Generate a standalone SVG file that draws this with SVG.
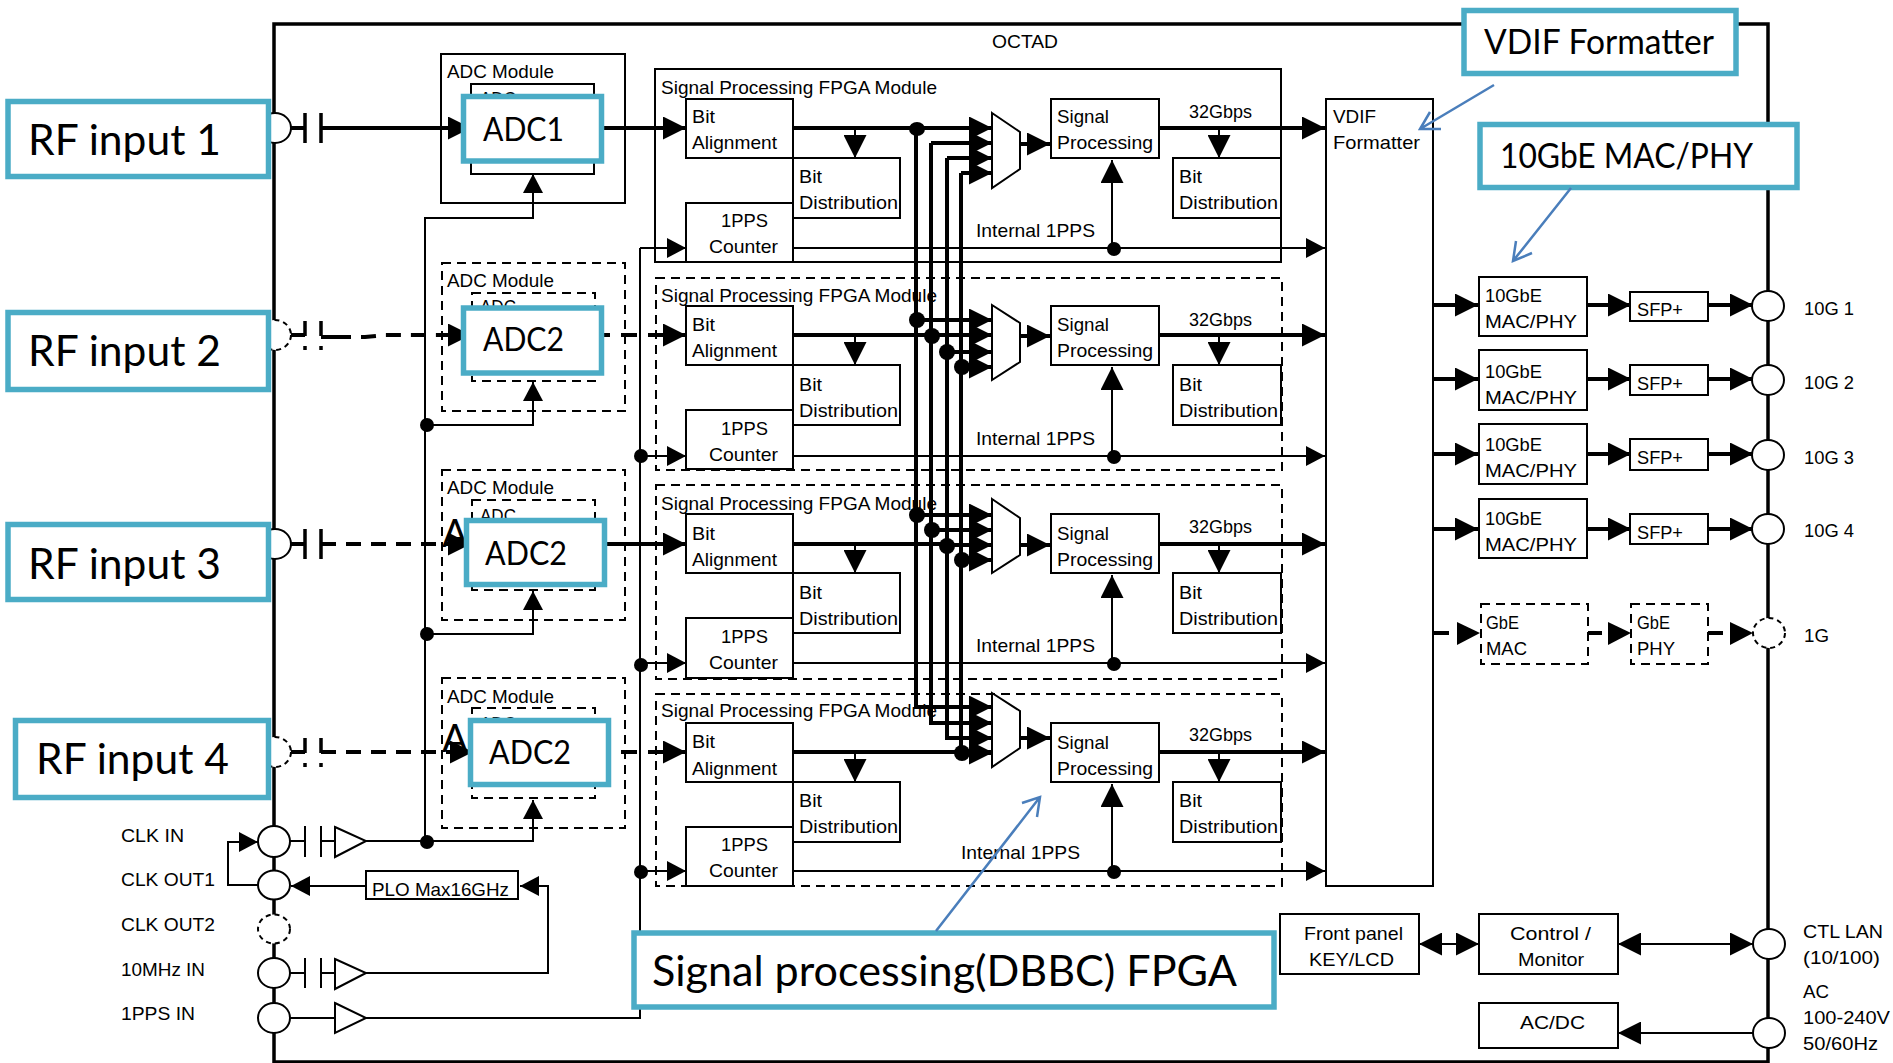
<svg xmlns="http://www.w3.org/2000/svg" width="1893" height="1063" viewBox="0 0 1893 1063">
<style>
text{font-family:"Liberation Sans",Arial,sans-serif;font-size:19px;fill:#000}
.b{fill:#fff;stroke:#000;stroke-width:2}
.n{fill:none;stroke:#000;stroke-width:2}
.d{fill:none;stroke:#000;stroke-width:2;stroke-dasharray:9 6}
.bd{fill:#fff;stroke:#000;stroke-width:2;stroke-dasharray:5 4}
.blue{fill:#fff;stroke:#4bacc6;stroke-width:5.5}
.bt{font-family:Lato,"Noto Sans",sans-serif;font-size:43px}
.at{font-family:Lato,"Noto Sans",sans-serif;font-size:33px}
.thick{fill:none;stroke:#000;stroke-width:4}
.thin{fill:none;stroke:#000;stroke-width:2}
.dash{fill:none;stroke:#000;stroke-width:4;stroke-dasharray:15 10}
.adash{fill:none;stroke:#000;stroke-width:4;stroke-dasharray:16 11}
.plate{fill:none;stroke:#000;stroke-width:3.5}
.pd{fill:none;stroke:#000;stroke-width:3.5;stroke-dasharray:15 10 4 40}
.cap{fill:none;stroke:#000;stroke-width:2}
.callout{fill:none;stroke:#4a7ebb;stroke-width:2.5}
.dot{fill:#000}
.big{marker-end:url(#big)}
.small{marker-end:url(#small)}
</style>
<defs>
<marker id="big" markerUnits="userSpaceOnUse" viewBox="0 0 23 23" refX="23" refY="11.5" markerWidth="23" markerHeight="23" orient="auto"><path d="M0 0L23 11.5L0 23Z" fill="#000"/></marker>
<marker id="small" markerUnits="userSpaceOnUse" viewBox="0 0 19 20" refX="19" refY="10" markerWidth="19" markerHeight="20" orient="auto"><path d="M0 0L19 10L0 20Z" fill="#000"/></marker>
</defs>
<rect width="1893" height="1063" fill="#fff"/>
<g id="octad"><rect x="274" y="24" width="1494" height="1038" fill="none" stroke="#000" stroke-width="3.5"/><text x="992" y="48" textLength="66" lengthAdjust="spacingAndGlyphs">OCTAD</text></g>

<g id="adc-module-1"><rect class="n" x="441" y="54" width="184" height="149"/><text x="447" y="78" textLength="107" lengthAdjust="spacingAndGlyphs">ADC Module</text><rect class="n" x="471" y="84" width="123" height="90"/><text x="480" y="105" textLength="36" lengthAdjust="spacingAndGlyphs">ADC</text></g>
<g id="adc-module-2"><rect class="d" x="442" y="263" width="183" height="148"/><text x="447" y="287" textLength="107" lengthAdjust="spacingAndGlyphs">ADC Module</text><rect class="d" x="472" y="293" width="123" height="88"/><text x="480" y="313" textLength="36" lengthAdjust="spacingAndGlyphs">ADC</text></g>
<g id="adc-module-3"><rect class="d" x="442" y="470" width="183" height="150"/><text x="447" y="494" textLength="107" lengthAdjust="spacingAndGlyphs">ADC Module</text><rect class="d" x="472" y="500" width="123" height="90"/><text x="480" y="522" textLength="36" lengthAdjust="spacingAndGlyphs">ADC</text><text class="at" x="442" y="547" style="font-size:38px">A</text></g>
<g id="adc-module-4"><rect class="d" x="442" y="678" width="183" height="150"/><text x="447" y="703" textLength="107" lengthAdjust="spacingAndGlyphs">ADC Module</text><rect class="d" x="472" y="708" width="123" height="90"/><text x="480" y="730" textLength="36" lengthAdjust="spacingAndGlyphs">ADC</text><text class="at" x="442" y="752" style="font-size:38px">A</text></g>

<g id="fpga-1"><rect class="n" x="655" y="69" width="626" height="193"/><text x="661" y="94" textLength="276" lengthAdjust="spacingAndGlyphs">Signal Processing FPGA Module</text>
<rect class="b" x="793" y="158" width="107" height="60"/><text x="799" y="183" textLength="23" lengthAdjust="spacingAndGlyphs">Bit</text><text x="799" y="209" textLength="99" lengthAdjust="spacingAndGlyphs">Distribution</text>
<rect class="b" x="686" y="99" width="107" height="59"/><text x="692" y="123" textLength="23" lengthAdjust="spacingAndGlyphs">Bit</text><text x="692" y="149" textLength="85" lengthAdjust="spacingAndGlyphs">Alignment</text>
<rect class="b" x="686" y="203" width="107" height="59"/><text x="721" y="227" textLength="47" lengthAdjust="spacingAndGlyphs">1PPS</text><text x="709" y="253" textLength="69" lengthAdjust="spacingAndGlyphs">Counter</text>
<polygon class="b" points="992,113 1020,132 1020,169 992,188"/>
<rect class="b" x="1051" y="99" width="108" height="59"/><text x="1057" y="123" textLength="52" lengthAdjust="spacingAndGlyphs">Signal</text><text x="1057" y="149" textLength="96" lengthAdjust="spacingAndGlyphs">Processing</text>
<rect class="b" x="1173" y="158" width="108" height="60"/><text x="1179" y="183" textLength="23" lengthAdjust="spacingAndGlyphs">Bit</text><text x="1179" y="209" textLength="99" lengthAdjust="spacingAndGlyphs">Distribution</text>
<text x="1189" y="118" textLength="63" lengthAdjust="spacingAndGlyphs">32Gbps</text><text x="976" y="237" textLength="119" lengthAdjust="spacingAndGlyphs">Internal 1PPS</text></g>

<g id="fpga-2"><rect class="d" x="656" y="278" width="626" height="192"/><text x="661" y="302" textLength="276" lengthAdjust="spacingAndGlyphs">Signal Processing FPGA Module</text>
<rect class="b" x="793" y="365" width="107" height="60"/><text x="799" y="391" textLength="23" lengthAdjust="spacingAndGlyphs">Bit</text><text x="799" y="417" textLength="99" lengthAdjust="spacingAndGlyphs">Distribution</text>
<rect class="b" x="686" y="306" width="107" height="59"/><text x="692" y="331" textLength="23" lengthAdjust="spacingAndGlyphs">Bit</text><text x="692" y="357" textLength="85" lengthAdjust="spacingAndGlyphs">Alignment</text>
<rect class="b" x="686" y="410" width="107" height="59"/><text x="721" y="435" textLength="47" lengthAdjust="spacingAndGlyphs">1PPS</text><text x="709" y="461" textLength="69" lengthAdjust="spacingAndGlyphs">Counter</text>
<polygon class="b" points="992,305 1020,323 1020,362 992,380"/>
<rect class="b" x="1051" y="306" width="108" height="59"/><text x="1057" y="331" textLength="52" lengthAdjust="spacingAndGlyphs">Signal</text><text x="1057" y="357" textLength="96" lengthAdjust="spacingAndGlyphs">Processing</text>
<rect class="b" x="1173" y="365" width="108" height="60"/><text x="1179" y="391" textLength="23" lengthAdjust="spacingAndGlyphs">Bit</text><text x="1179" y="417" textLength="99" lengthAdjust="spacingAndGlyphs">Distribution</text>
<text x="1189" y="326" textLength="63" lengthAdjust="spacingAndGlyphs">32Gbps</text><text x="976" y="445" textLength="119" lengthAdjust="spacingAndGlyphs">Internal 1PPS</text></g>

<g id="fpga-3"><rect class="d" x="656" y="485" width="626" height="194"/><text x="661" y="510" textLength="276" lengthAdjust="spacingAndGlyphs">Signal Processing FPGA Module</text>
<rect class="b" x="793" y="573" width="107" height="60"/><text x="799" y="599" textLength="23" lengthAdjust="spacingAndGlyphs">Bit</text><text x="799" y="625" textLength="99" lengthAdjust="spacingAndGlyphs">Distribution</text>
<rect class="b" x="686" y="514" width="107" height="59"/><text x="692" y="540" textLength="23" lengthAdjust="spacingAndGlyphs">Bit</text><text x="692" y="566" textLength="85" lengthAdjust="spacingAndGlyphs">Alignment</text>
<rect class="b" x="686" y="618" width="107" height="60"/><text x="721" y="643" textLength="47" lengthAdjust="spacingAndGlyphs">1PPS</text><text x="709" y="669" textLength="69" lengthAdjust="spacingAndGlyphs">Counter</text>
<polygon class="b" points="992,499 1020,518 1020,555 992,573"/>
<rect class="b" x="1051" y="514" width="108" height="59"/><text x="1057" y="540" textLength="52" lengthAdjust="spacingAndGlyphs">Signal</text><text x="1057" y="566" textLength="96" lengthAdjust="spacingAndGlyphs">Processing</text>
<rect class="b" x="1173" y="573" width="108" height="60"/><text x="1179" y="599" textLength="23" lengthAdjust="spacingAndGlyphs">Bit</text><text x="1179" y="625" textLength="99" lengthAdjust="spacingAndGlyphs">Distribution</text>
<text x="1189" y="533" textLength="63" lengthAdjust="spacingAndGlyphs">32Gbps</text><text x="976" y="652" textLength="119" lengthAdjust="spacingAndGlyphs">Internal 1PPS</text></g>

<g id="fpga-4"><rect class="d" x="656" y="694" width="626" height="192"/><text x="661" y="717" textLength="276" lengthAdjust="spacingAndGlyphs">Signal Processing FPGA Module</text>
<rect class="b" x="793" y="782" width="107" height="60"/><text x="799" y="807" textLength="23" lengthAdjust="spacingAndGlyphs">Bit</text><text x="799" y="833" textLength="99" lengthAdjust="spacingAndGlyphs">Distribution</text>
<rect class="b" x="686" y="723" width="107" height="59"/><text x="692" y="748" textLength="23" lengthAdjust="spacingAndGlyphs">Bit</text><text x="692" y="775" textLength="85" lengthAdjust="spacingAndGlyphs">Alignment</text>
<rect class="b" x="686" y="827" width="107" height="59"/><text x="721" y="851" textLength="47" lengthAdjust="spacingAndGlyphs">1PPS</text><text x="709" y="877" textLength="69" lengthAdjust="spacingAndGlyphs">Counter</text>
<polygon class="b" points="992,693 1020,711 1020,748 992,767"/>
<rect class="b" x="1051" y="723" width="108" height="59"/><text x="1057" y="749" textLength="52" lengthAdjust="spacingAndGlyphs">Signal</text><text x="1057" y="775" textLength="96" lengthAdjust="spacingAndGlyphs">Processing</text>
<rect class="b" x="1173" y="782" width="108" height="60"/><text x="1179" y="807" textLength="23" lengthAdjust="spacingAndGlyphs">Bit</text><text x="1179" y="833" textLength="99" lengthAdjust="spacingAndGlyphs">Distribution</text>
<text x="1189" y="741" textLength="63" lengthAdjust="spacingAndGlyphs">32Gbps</text><text x="961" y="859" textLength="119" lengthAdjust="spacingAndGlyphs">Internal 1PPS</text></g>

<g id="vdif"><rect class="b" x="1326" y="99" width="107" height="787"/><text x="1333" y="123" textLength="43" lengthAdjust="spacingAndGlyphs">VDIF</text><text x="1333" y="149" textLength="87" lengthAdjust="spacingAndGlyphs">Formatter</text></g>
<g id="mac-1"><rect class="b" x="1479" y="277" width="108" height="59"/><text x="1485" y="302" textLength="57" lengthAdjust="spacingAndGlyphs">10GbE</text><text x="1485" y="328" textLength="92" lengthAdjust="spacingAndGlyphs">MAC/PHY</text></g>
<g id="mac-2"><rect class="b" x="1479" y="350" width="108" height="60"/><text x="1485" y="378" textLength="57" lengthAdjust="spacingAndGlyphs">10GbE</text><text x="1485" y="404" textLength="92" lengthAdjust="spacingAndGlyphs">MAC/PHY</text></g>
<g id="mac-3"><rect class="b" x="1479" y="424" width="108" height="60"/><text x="1485" y="451" textLength="57" lengthAdjust="spacingAndGlyphs">10GbE</text><text x="1485" y="477" textLength="92" lengthAdjust="spacingAndGlyphs">MAC/PHY</text></g>
<g id="mac-4"><rect class="b" x="1479" y="499" width="108" height="59"/><text x="1485" y="525" textLength="57" lengthAdjust="spacingAndGlyphs">10GbE</text><text x="1485" y="551" textLength="92" lengthAdjust="spacingAndGlyphs">MAC/PHY</text></g>
<g id="sfp-1"><rect class="b" x="1630" y="292" width="78" height="29"/><text x="1637" y="316" textLength="46" lengthAdjust="spacingAndGlyphs">SFP+</text></g>
<g id="sfp-2"><rect class="b" x="1630" y="365" width="78" height="30"/><text x="1637" y="390" textLength="46" lengthAdjust="spacingAndGlyphs">SFP+</text></g>
<g id="sfp-3"><rect class="b" x="1630" y="439" width="78" height="31"/><text x="1637" y="464" textLength="46" lengthAdjust="spacingAndGlyphs">SFP+</text></g>
<g id="sfp-4"><rect class="b" x="1630" y="514" width="78" height="30"/><text x="1637" y="539" textLength="46" lengthAdjust="spacingAndGlyphs">SFP+</text></g>
<g id="gbe-mac"><rect class="d" x="1481" y="604" width="107" height="60"/><text x="1486" y="629" textLength="33" lengthAdjust="spacingAndGlyphs">GbE</text><text x="1486" y="655" textLength="41" lengthAdjust="spacingAndGlyphs">MAC</text></g>
<g id="gbe-phy"><rect class="d" x="1631" y="604" width="77" height="60"/><text x="1637" y="629" textLength="33" lengthAdjust="spacingAndGlyphs">GbE</text><text x="1637" y="655" textLength="38" lengthAdjust="spacingAndGlyphs">PHY</text></g>
<g id="front-panel"><rect class="b" x="1280" y="914" width="139" height="60"/><text x="1304" y="940" textLength="99" lengthAdjust="spacingAndGlyphs">Front panel</text><text x="1309" y="966" textLength="85" lengthAdjust="spacingAndGlyphs">KEY/LCD</text></g>
<g id="control"><rect class="b" x="1479" y="914" width="139" height="60"/><text x="1510" y="940" textLength="81" lengthAdjust="spacingAndGlyphs">Control /</text><text x="1518" y="966" textLength="66" lengthAdjust="spacingAndGlyphs">Monitor</text></g>
<g id="acdc"><rect class="b" x="1479" y="1003" width="139" height="45"/><text x="1520" y="1029" textLength="65" lengthAdjust="spacingAndGlyphs">AC/DC</text></g>
<g id="plo"><rect class="b" x="366" y="871" width="152" height="28"/><text x="372" y="896" textLength="137" lengthAdjust="spacingAndGlyphs">PLO Max16GHz</text></g>

<g id="connectors">
<path class="thick" d="M290 128H305"/><path class="thick big" d="M321 128H471"/><path class="plate" d="M305 113V143M321 113V143"/>
<path class="thick" d="M290 335H305M321 337H336"/><path class="dash big" d="M336 337H365L385 335H471"/><path class="pd" d="M305 321V350M321 321V350"/>
<path class="thick" d="M290 544H305"/><path class="dash big" d="M321 544H471"/><path class="plate" d="M305 529V559M321 529V559"/>
<path class="thick" d="M290 752H305"/><path class="dash big" d="M321 752H473"/><path class="pd" d="M305 738V767M321 738V767"/>
<path class="thick big" d="M600 128H686"/><path class="adash big" d="M594 335H686"/><path class="thick big" d="M600 544H686"/><path class="adash big" d="M594 752H686"/>
<path class="thick big" d="M793 128H992"/><path class="thick big" d="M931 143H992"/><path class="thick big" d="M947 158H992"/><path class="thick big" d="M961 173H992"/>
<path class="thick big" d="M916 128V707H992"/><path class="thick big" d="M931 143V723H992"/><path class="thick big" d="M947 158V738H992"/><path class="thick big" d="M961 173V753H992"/>
<path class="thick" d="M793 335H932"/><path class="thick big" d="M916 320H992"/><path class="thick big" d="M931 335H992"/><path class="thick big" d="M947 352H992"/><path class="thick big" d="M961 367H992"/>
<path class="thick big" d="M793 544H947V545H992"/><path class="thick big" d="M916 515H992"/><path class="thick big" d="M931 530H992"/><path class="thick big" d="M961 560H992"/>
<path class="thick big" d="M793 752H992"/>
<path class="thick big" d="M1020 144H1050"/><path class="thick big" d="M1020 336H1050"/><path class="thick big" d="M1020 545H1050"/><path class="thick big" d="M1020 738H1050"/>
<path class="thick big" d="M1159 128H1325"/><path class="thick big" d="M1159 335H1325"/><path class="thick big" d="M1159 544H1325"/><path class="thick big" d="M1159 752H1325"/>
<path class="thin big" d="M855 128V158"/><path class="thin big" d="M1219 128V158"/><path class="thin big" d="M855 335V365"/><path class="thin big" d="M1219 335V365"/><path class="thin big" d="M855 544V573"/><path class="thin big" d="M1219 544V573"/><path class="thin big" d="M855 752V782"/><path class="thin big" d="M1219 752V782"/>
<path class="thin small" d="M793 248H1325"/><path class="thin small" d="M793 456H1325"/><path class="thin small" d="M793 663H1325"/><path class="thin small" d="M793 871H1325"/>
<path class="thin big" d="M1112 248V160"/><path class="thin big" d="M1112 456V367"/><path class="thin big" d="M1112 663V575"/><path class="thin big" d="M1112 871V784"/>
<path class="thin small" d="M640 248H686"/><path class="thin small" d="M640 456H686"/><path class="thin small" d="M640 663H686"/><path class="thin small" d="M640 871H686"/>
<path class="thin" d="M640 248V1018H366"/><path class="thin" d="M290 1018H335"/>
<path class="thin small" d="M366 841H533V800"/><path class="thin small" d="M425 841V218H533V174"/><path class="thin small" d="M425 425H533V382"/><path class="thin small" d="M425 634H533V591"/>
<path class="thin" d="M290 841H305M321 841H335"/><path class="cap" d="M305 826V857M321 826V857"/>
<path class="thin" d="M290 973H305M321 973H335"/><path class="cap" d="M305 958V988M321 958V988"/>
<path class="thin small" d="M366 973H548V886H520"/><path class="thin small" d="M366 886H291"/><path class="thin small" d="M259 885H228V842H258"/>
<path class="thick big" d="M1433 305H1478"/><path class="thick big" d="M1433 379H1478"/><path class="thick big" d="M1433 454H1478"/><path class="thick big" d="M1433 529H1478"/>
<path class="thick big" d="M1587 305H1631"/><path class="thick big" d="M1587 379H1631"/><path class="thick big" d="M1587 454H1631"/><path class="thick big" d="M1587 529H1631"/>
<path class="thick big" d="M1708 305H1753"/><path class="thick big" d="M1708 379H1753"/><path class="thick big" d="M1708 454H1753"/><path class="thick big" d="M1708 529H1753"/>
<path class="thick" d="M1434 633H1449"/><polygon points="1457,622 1480,633 1457,645"/>
<path class="thick" d="M1588 633H1602"/><polygon points="1608,622 1631,633 1608,645"/>
<path class="thick" d="M1708 633H1723"/><polygon points="1730,622 1753,633 1730,645"/>
<path class="thin big" d="M1440 944H1419"/><path class="thin big" d="M1440 944H1479"/>
<path class="thin big" d="M1640 944H1618"/><path class="thin big" d="M1640 944H1753"/>
<path class="thin big" d="M1753 1033H1618"/>
<g class="dot"><ellipse cx="917" cy="129" rx="8" ry="7"/><ellipse cx="917" cy="320" rx="8" ry="8"/><ellipse cx="932" cy="336" rx="8" ry="8"/><ellipse cx="947" cy="352" rx="8" ry="8"/><ellipse cx="962" cy="367" rx="8" ry="8"/><ellipse cx="917" cy="515" rx="8" ry="8"/><ellipse cx="932" cy="530" rx="8" ry="8"/><ellipse cx="947" cy="546" rx="8" ry="8"/><ellipse cx="962" cy="560" rx="8" ry="8"/><ellipse cx="962" cy="753" rx="8" ry="8"/>
<circle cx="1114" cy="249" r="7"/><circle cx="1114" cy="457" r="7"/><circle cx="1114" cy="664" r="7"/><circle cx="1114" cy="872" r="7"/>
<circle cx="641" cy="456" r="7"/><circle cx="641" cy="665" r="7"/><circle cx="641" cy="872" r="7"/>
<circle cx="427" cy="425" r="7"/><circle cx="427" cy="634" r="7"/><circle cx="427" cy="842" r="7"/></g>
<path class="b" d="M335 827L366 841L335 857Z"/><path class="b" d="M335 959L366 973L335 989Z"/><path class="b" d="M335 1003L366 1018L335 1033Z"/>
</g>

<g id="port-rf1"><ellipse class="b" cx="275" cy="128" rx="16" ry="15"/></g>
<g id="port-rf2"><ellipse class="bd" cx="275" cy="335" rx="16" ry="15"/></g>
<g id="port-rf3"><ellipse class="b" cx="275" cy="544" rx="16" ry="15"/></g>
<g id="port-rf4"><ellipse class="bd" cx="275" cy="752" rx="16" ry="15"/></g>
<g id="port-clkin"><ellipse class="b" cx="274" cy="841.500" rx="16" ry="15.500"/><text x="121" y="842" textLength="63" lengthAdjust="spacingAndGlyphs">CLK IN</text></g>
<g id="port-clkout1"><ellipse class="b" cx="274" cy="885" rx="16" ry="14.500"/><text x="121" y="886" textLength="94" lengthAdjust="spacingAndGlyphs">CLK OUT1</text></g>
<g id="port-clkout2"><ellipse class="bd" cx="274" cy="929" rx="16" ry="14.500"/><text x="121" y="931" textLength="94" lengthAdjust="spacingAndGlyphs">CLK OUT2</text></g>
<g id="port-10mhz"><ellipse class="b" cx="274" cy="973" rx="16" ry="15"/><text x="121" y="976" textLength="84" lengthAdjust="spacingAndGlyphs">10MHz IN</text></g>
<g id="port-1pps"><ellipse class="b" cx="274" cy="1018" rx="16" ry="15"/><text x="121" y="1020" textLength="74" lengthAdjust="spacingAndGlyphs">1PPS IN</text></g>
<g id="port-10g1"><ellipse class="b" cx="1768" cy="306" rx="16" ry="15"/><text x="1804" y="315" textLength="50" lengthAdjust="spacingAndGlyphs">10G 1</text></g>
<g id="port-10g2"><ellipse class="b" cx="1768" cy="380" rx="16" ry="15"/><text x="1804" y="389" textLength="50" lengthAdjust="spacingAndGlyphs">10G 2</text></g>
<g id="port-10g3"><ellipse class="b" cx="1768" cy="455" rx="16" ry="15"/><text x="1804" y="464" textLength="50" lengthAdjust="spacingAndGlyphs">10G 3</text></g>
<g id="port-10g4"><ellipse class="b" cx="1768" cy="529" rx="16" ry="15"/><text x="1804" y="537" textLength="50" lengthAdjust="spacingAndGlyphs">10G 4</text></g>
<g id="port-1g"><ellipse class="bd" cx="1769" cy="633" rx="16" ry="15"/><text x="1804" y="642" textLength="25" lengthAdjust="spacingAndGlyphs">1G</text></g>
<g id="port-ctl"><ellipse class="b" cx="1769" cy="944" rx="16" ry="15"/><text x="1803" y="938" textLength="80" lengthAdjust="spacingAndGlyphs">CTL LAN</text><text x="1803" y="964" textLength="77" lengthAdjust="spacingAndGlyphs">(10/100)</text></g>
<g id="port-ac"><ellipse class="b" cx="1769" cy="1033" rx="16" ry="15"/><text x="1803" y="998" textLength="26" lengthAdjust="spacingAndGlyphs">AC</text><text x="1803" y="1024" textLength="87" lengthAdjust="spacingAndGlyphs">100-240V</text><text x="1803" y="1050" textLength="75" lengthAdjust="spacingAndGlyphs">50/60Hz</text></g>

<g id="callout-adc1"><rect class="blue" x="463.500" y="96.500" width="138" height="64.500"/><text class="at" x="483" y="141" textLength="81" lengthAdjust="spacingAndGlyphs">ADC1</text></g>
<g id="callout-adc2a"><rect class="blue" x="463.500" y="308" width="138" height="65"/><text class="at" x="483" y="351" textLength="81" lengthAdjust="spacingAndGlyphs">ADC2</text></g>
<g id="callout-adc2b"><rect class="blue" x="466.500" y="520.500" width="138" height="64"/><text class="at" x="485" y="565" textLength="82" lengthAdjust="spacingAndGlyphs">ADC2</text></g>
<g id="callout-adc2c"><rect class="blue" x="470.500" y="720.500" width="138" height="64"/><text class="at" x="489" y="764" textLength="82" lengthAdjust="spacingAndGlyphs">ADC2</text></g>
<g id="callout-rf1"><rect class="blue" x="8" y="101.500" width="260.500" height="75"/><text class="bt" x="28" y="155" textLength="193" lengthAdjust="spacingAndGlyphs">RF input 1</text></g>
<g id="callout-rf2"><rect class="blue" x="8" y="312.500" width="260.500" height="77"/><text class="bt" x="28" y="366" textLength="193" lengthAdjust="spacingAndGlyphs">RF input 2</text></g>
<g id="callout-rf3"><rect class="blue" x="8" y="524.500" width="260.500" height="75"/><text class="bt" x="28" y="579" textLength="193" lengthAdjust="spacingAndGlyphs">RF input 3</text></g>
<g id="callout-rf4"><rect class="blue" x="15.500" y="720.500" width="253" height="77"/><text class="bt" x="36" y="774" textLength="193" lengthAdjust="spacingAndGlyphs">RF input 4</text></g>
<g id="callout-vdif"><rect class="blue" x="1464" y="10.500" width="272" height="63"/><text class="at" x="1484" y="54" style="font-size:34px" textLength="230" lengthAdjust="spacingAndGlyphs">VDIF Formatter</text></g>
<g id="callout-10g"><rect class="blue" x="1480" y="124.500" width="317" height="63"/><text class="at" x="1500" y="168" style="font-size:34px" textLength="253" lengthAdjust="spacingAndGlyphs">10GbE MAC/PHY</text></g>
<g id="callout-dbbc"><rect class="blue" x="634" y="933" width="640" height="74"/><text class="at" x="652" y="986" style="font-size:42px" textLength="585" lengthAdjust="spacingAndGlyphs">Signal processing(DBBC) FPGA</text></g>
<g id="callouts">
<path class="callout" d="M1494 85L1420 129M1430 112L1420 129L1441 129"/>
<path class="callout" d="M1571 188L1513 261M1516 241L1513 261L1532 253"/>
<path class="callout" d="M936 931L1040 797M1022 803L1040 797L1037 817"/>
</g>
</svg>
